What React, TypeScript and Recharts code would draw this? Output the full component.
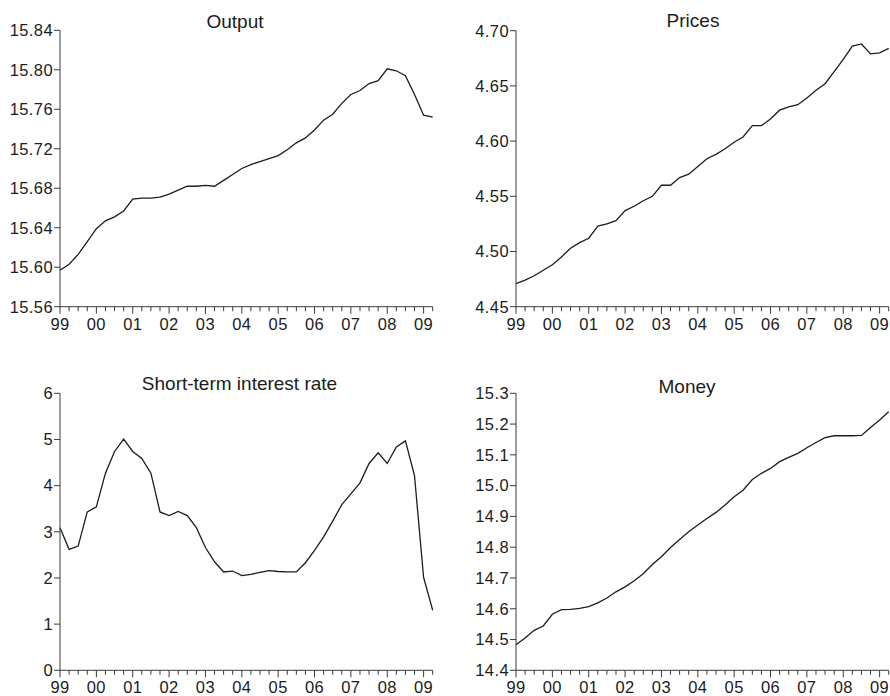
import React from "react";
import { LineChart, Line, XAxis, YAxis } from "recharts";

// quarterly observations, 1999Q1 – 2009Q2
const YEAR_LABELS = ["99", "00", "01", "02", "03", "04", "05", "06", "07", "08", "09"];

const OUTPUT = [
  15.597, 15.603, 15.613, 15.626, 15.639, 15.647, 15.651, 15.657, 15.669, 15.67,
  15.67, 15.671, 15.674, 15.678, 15.682, 15.682, 15.683, 15.682, 15.688, 15.694,
  15.7, 15.704, 15.707, 15.71, 15.713, 15.719, 15.726, 15.731, 15.739, 15.749,
  15.755, 15.766, 15.775, 15.779, 15.786, 15.789, 15.801, 15.799, 15.794, 15.775,
  15.754, 15.752,
];

const PRICES = [
  4.471, 4.474, 4.478, 4.483, 4.488, 4.495, 4.503, 4.508, 4.512, 4.523,
  4.525, 4.528, 4.537, 4.541, 4.546, 4.55, 4.56, 4.56, 4.567, 4.57,
  4.577, 4.584, 4.588, 4.593, 4.599, 4.604, 4.614, 4.614, 4.62, 4.628,
  4.631, 4.633, 4.639, 4.646, 4.652, 4.663, 4.674, 4.686, 4.688, 4.679,
  4.68, 4.684,
];

const RATE = [
  3.09, 2.62, 2.69, 3.43, 3.54, 4.27, 4.74, 5.01, 4.74, 4.59,
  4.27, 3.43, 3.35, 3.44, 3.35, 3.09, 2.66, 2.35, 2.13, 2.15,
  2.05, 2.08, 2.12, 2.16, 2.14, 2.13, 2.13, 2.33, 2.6, 2.89,
  3.23, 3.59, 3.82, 4.06, 4.48, 4.71, 4.48, 4.84, 4.97, 4.21,
  2.01, 1.3,
];

const MONEY = [
  14.483, 14.505, 14.53, 14.544, 14.582, 14.597, 14.598, 14.601, 14.607, 14.619,
  14.635, 14.655, 14.671, 14.691, 14.714, 14.744, 14.769, 14.799, 14.825, 14.85,
  14.872, 14.893, 14.913, 14.937, 14.964, 14.986, 15.02, 15.04, 15.056, 15.078,
  15.092, 15.105, 15.123, 15.14, 15.156, 15.162, 15.162, 15.162, 15.163, 15.189,
  15.213, 15.24,
];

const OUTPUT_TICKS = [15.56, 15.6, 15.64, 15.68, 15.72, 15.76, 15.8, 15.84];
const PRICE_TICKS = [4.45, 4.5, 4.55, 4.6, 4.65, 4.7];
const RATE_TICKS = [0, 1, 2, 3, 4, 5, 6];
const MONEY_TICKS = [14.4, 14.5, 14.6, 14.7, 14.8, 14.9, 15.0, 15.1, 15.2, 15.3];

const FONT = '"Liberation Sans", Arial, Helvetica, sans-serif';
const INK = "#1c1c1c";
const AXIS = "#3a3a3a";

const QUARTER_TICKS = OUTPUT.map((_, i) => i);
const LAST = OUTPUT.length - 1;

function QuarterTick(props: any) {
  const { x, y, payload } = props;
  const i = payload.value as number;
  const major = i % 4 === 0;
  return (
    <g>
      <line x1={x} x2={x} y1={y} y2={y + (major ? 7 : 4.5)} stroke={AXIS} strokeWidth={1} />
      {major && (
        <text
          x={x}
          y={y + 23}
          textAnchor="middle"
          fill={INK}
          fontSize={16.5}
          fontFamily={FONT}
          letterSpacing={0.4}
        >
          {YEAR_LABELS[i / 4]}
        </text>
      )}
    </g>
  );
}

interface PanelProps {
  values: number[];
  ticks: number[];
  digits: number;
  left: number;
  top: number;
  height: number;
  axisWidth: number;
  marginTop: number;
  marginRight: number;
  xAxisHeight: number;
}

function Panel({ values, ticks, digits, left, top, height, axisWidth, marginTop, marginRight, xAxisHeight }: PanelProps) {
  const data = values.map((v, i) => ({ q: i, v }));
  return (
    <div style={{ position: "absolute", left, top }}>
      <LineChart
        width={445}
        height={height}
        data={data}
        margin={{ top: marginTop, right: marginRight, bottom: 0, left: 0 }}
      >
        <XAxis
          dataKey="q"
          type="number"
          domain={[0, LAST]}
          ticks={QUARTER_TICKS}
          interval={0}
          height={xAxisHeight}
          tickSize={0}
          tickMargin={0}
          tickLine={false}
          axisLine={{ stroke: AXIS, strokeWidth: 1 }}
          tick={<QuarterTick />}
        />
        <YAxis
          type="number"
          domain={[ticks[0], ticks[ticks.length - 1]]}
          ticks={ticks}
          interval={0}
          width={axisWidth}
          tickSize={6}
          tickMargin={1}
          axisLine={{ stroke: AXIS, strokeWidth: 1 }}
          tickLine={{ stroke: AXIS, strokeWidth: 1 }}
          tick={{ fill: INK, fontSize: 16.5, fontFamily: FONT, letterSpacing: 0.4 }}
          tickFormatter={(v: number) => v.toFixed(digits)}
        />
        <Line
          dataKey="v"
          type="linear"
          stroke={INK}
          strokeWidth={1.3}
          dot={false}
          isAnimationActive={false}
        />
      </LineChart>
    </div>
  );
}

const titleStyle = { fill: INK, fontSize: 19, fontFamily: FONT, textAnchor: "middle" as const };

export default function App() {
  return (
    <div style={{ position: "fixed", left: 0, top: 0, width: 890, height: 696, background: "#fff", overflow: "hidden" }}>
      <Panel values={OUTPUT} ticks={OUTPUT_TICKS} digits={2} left={0} top={0} height={340}
        axisWidth={60} marginTop={30.3} marginRight={12.3} xAxisHeight={33.3} />
      <Panel values={PRICES} ticks={PRICE_TICKS} digits={2} left={445} top={0} height={340}
        axisWidth={71} marginTop={30.7} marginRight={1.3} xAxisHeight={33.3} />
      <Panel values={RATE} ticks={RATE_TICKS} digits={0} left={0} top={340} height={356}
        axisWidth={60} marginTop={53.3} marginRight={12.3} xAxisHeight={25.7} />
      <Panel values={MONEY} ticks={MONEY_TICKS} digits={1} left={445} top={340} height={356}
        axisWidth={71} marginTop={53.3} marginRight={1.3} xAxisHeight={25.7} />
      <svg width={890} height={696} style={{ position: "absolute", left: 0, top: 0, pointerEvents: "none" }}>
        <text x={235} y={28} style={titleStyle}>Output</text>
        <text x={693} y={27.3} style={titleStyle}>Prices</text>
        <text x={239.5} y={390} style={titleStyle}>Short-term interest rate</text>
        <text x={687} y={393} style={titleStyle}>Money</text>
      </svg>
    </div>
  );
}
